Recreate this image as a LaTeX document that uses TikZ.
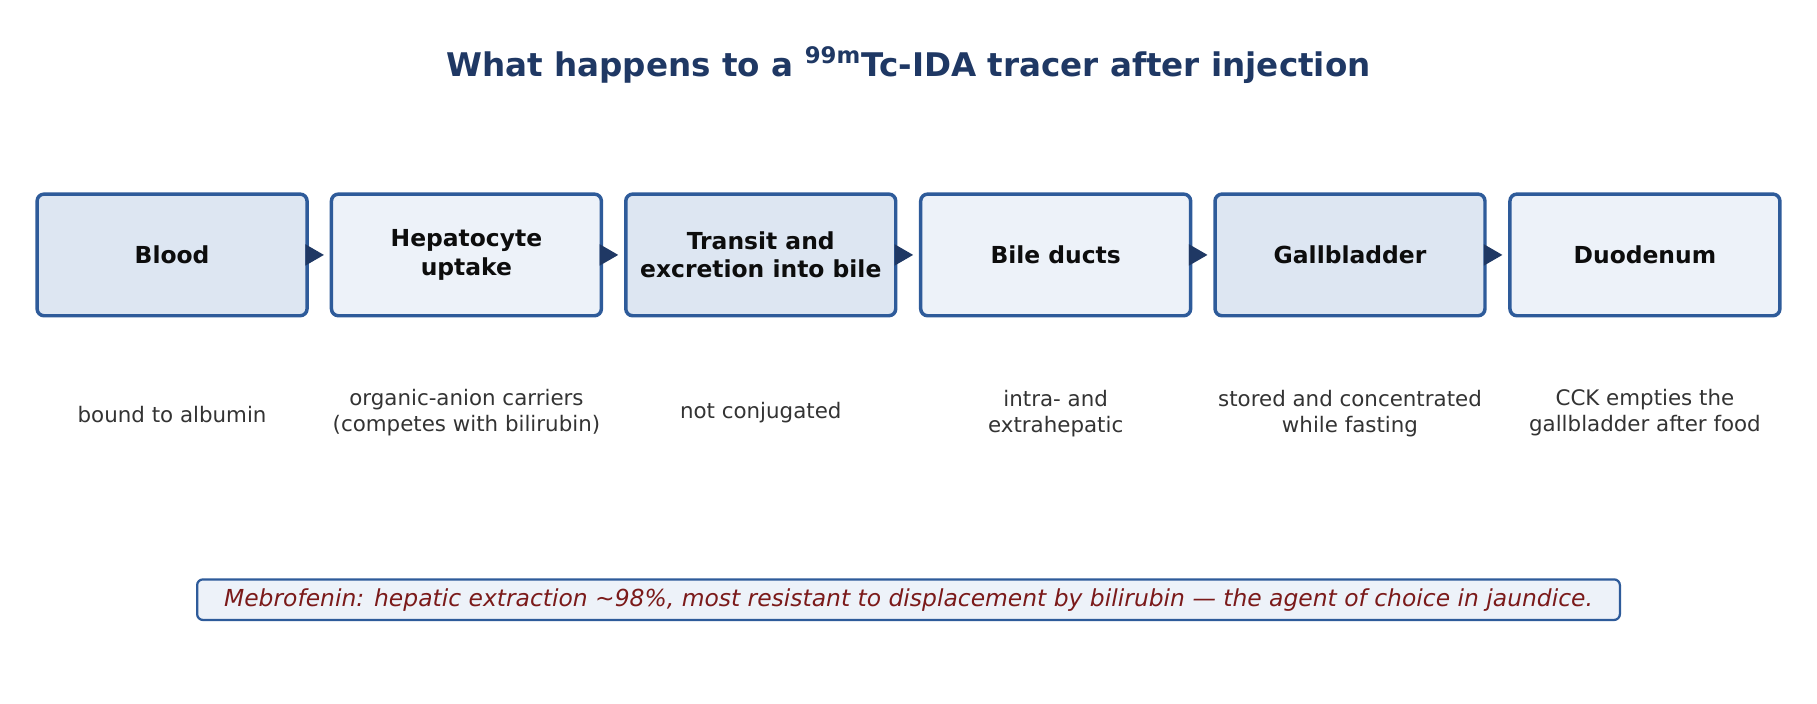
\documentclass[tikz,border=0pt]{standalone}
\usepackage{fontspec}
\setmainfont{DejaVu Sans}
\usetikzlibrary{arrows.meta}
\definecolor{bord}{HTML}{2E5B9A}
\definecolor{navy}{HTML}{1F3864}
\definecolor{fa}{HTML}{DDE6F2}
\definecolor{fb}{HTML}{EDF2F9}
\definecolor{txt}{HTML}{333333}
\definecolor{red7}{HTML}{7B1A1A}
\begin{document}
\begin{tikzpicture}[x=0.02cm,y=-0.02cm,
  box/.style={draw=bord,line width=1.7pt,rounded corners=0.12cm,minimum width=4.66cm,minimum height=2.1cm,align=center,font=\bfseries\fontsize{11.5}{14}\selectfont,text=black!95},
  desc/.style={align=center,text=txt,font=\fontsize{10.5}{12.5}\selectfont},
  arr/.style={navy,line width=1pt,-{Triangle[length=0.32cm,width=0.36cm]},shorten >=0.1cm}]
\useasboundingbox (0,0) rectangle (1568,607);
\node[text=navy,font=\bfseries\fontsize{16}{19}\selectfont] (title) at (784,56) {What happens to a \textsuperscript{99m}Tc-IDA tracer after injection};
\node[box,fill=fa] (b1) at (148.5,220) {Blood};
\node[box,fill=fb] (b2) at (402.5,220) {Hepatocyte\\uptake};
\node[box,fill=fa] (b3) at (656.5,220) {Transit and\\excretion into bile};
\node[box,fill=fb] (b4) at (911,220) {Bile ducts};
\node[box,fill=fa] (b5) at (1165,220) {Gallbladder};
\node[box,fill=fb] (b6) at (1419.5,220) {Duodenum};
\foreach \a/\b in {b1/b2,b2/b3,b3/b4,b4/b5,b5/b6} \draw[arr] (\a) -- (\b);
\node[desc] (d1) at (148.5,358) {bound to albumin};
\node[desc] (d2) at (402.5,356) {organic-anion carriers\\(competes with bilirubin)};
\node[desc] (d3) at (656.5,356) {not conjugated};
\node[desc] (d4) at (911,357) {intra- and\\extrahepatic};
\node[desc] (d5) at (1165,357) {stored and concentrated\\while fasting};
\node[desc] (d6) at (1419.5,356) {CCK empties the\\gallbladder after food};
\node[draw=bord,line width=1.1pt,fill=fb,rounded corners=0.1cm,minimum width=24.56cm,minimum height=0.7cm,text=red7,font=\itshape\fontsize{11.5}{14}\selectfont] (note) at (784,517.5) {Mebrofenin: hepatic extraction \textasciitilde98\%, most resistant to displacement by bilirubin — the agent of choice in jaundice.};
\end{tikzpicture}
\end{document}
